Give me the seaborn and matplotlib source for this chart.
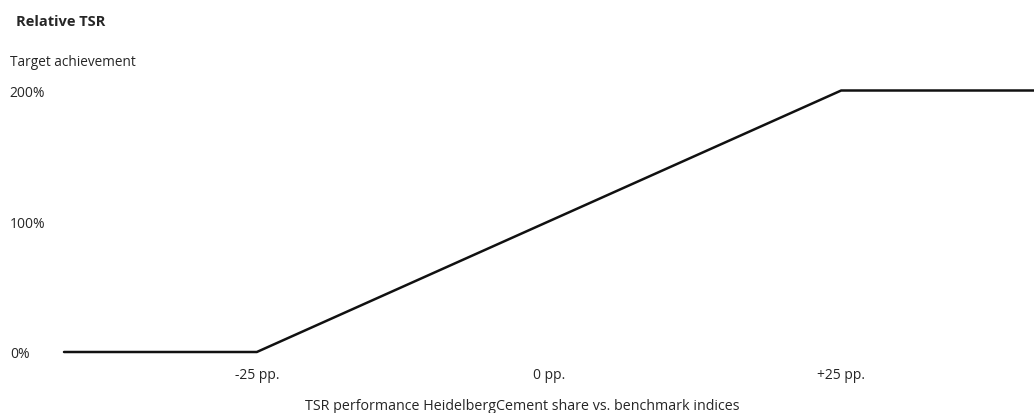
# plot.py
# Relative TSR - curva de consecución del objetivo

import matplotlib
matplotlib.use('Agg')
import matplotlib.pyplot as plt
import seaborn as sns
import pandas as pd

# Datos
tsr_pp = [-41.5, -25, 25, 41.5]
target_pct = [0, 0, 200, 200]
x_ticks = [-25, 0, 25]
x_tick_labels = ['-25 pp.', '0 pp.', '+25 pp.']
y_ticks = [0, 100, 200]
y_tick_labels = ['0%', '100%', '200%']

sns.set_style('white')
plt.rcParams['font.family'] = ['Open Sans', 'DejaVu Sans']

df = pd.DataFrame({'tsr': tsr_pp, 'target': target_pct})

fig = plt.figure(figsize=(10.34, 4.14), dpi=100)
W, H = 1034, 414
ax = fig.add_axes([64 / W, (H - 353) / H, (W - 64) / W, (353 - 91.5) / H])

sns.lineplot(data=df, x='tsr', y='target', ax=ax, color='#111111',
             linewidth=1.8, clip_on=False)

ax.set_xlim(-41.5, 41.5)
ax.set_ylim(0, 200)
ax.set_xticks(x_ticks)
ax.set_xticklabels(x_tick_labels, fontsize=10)
ax.set_yticks(y_ticks)
ax.set_yticklabels(y_tick_labels, fontsize=10, ha='left')
ax.tick_params(axis='y', length=0, pad=39)
ax.tick_params(axis='x', length=0, pad=11)
ax.set_xlabel('')
ax.set_ylabel('')
sns.despine(ax=ax, left=True, bottom=True)

fig.text(16 / W, 1 - 22 / H, 'Relative TSR', fontsize=10.5, fontweight='bold',
         va='center', ha='left')
fig.text(10 / W, 1 - 62 / H, 'Target achievement', fontsize=9.8,
         va='center', ha='left')
fig.text(522 / W, 1 - 407 / H,
         'TSR performance HeidelbergCement share vs. benchmark indices',
         fontsize=10.3, va='center', ha='center')

plt.savefig('out.png', dpi=100)
